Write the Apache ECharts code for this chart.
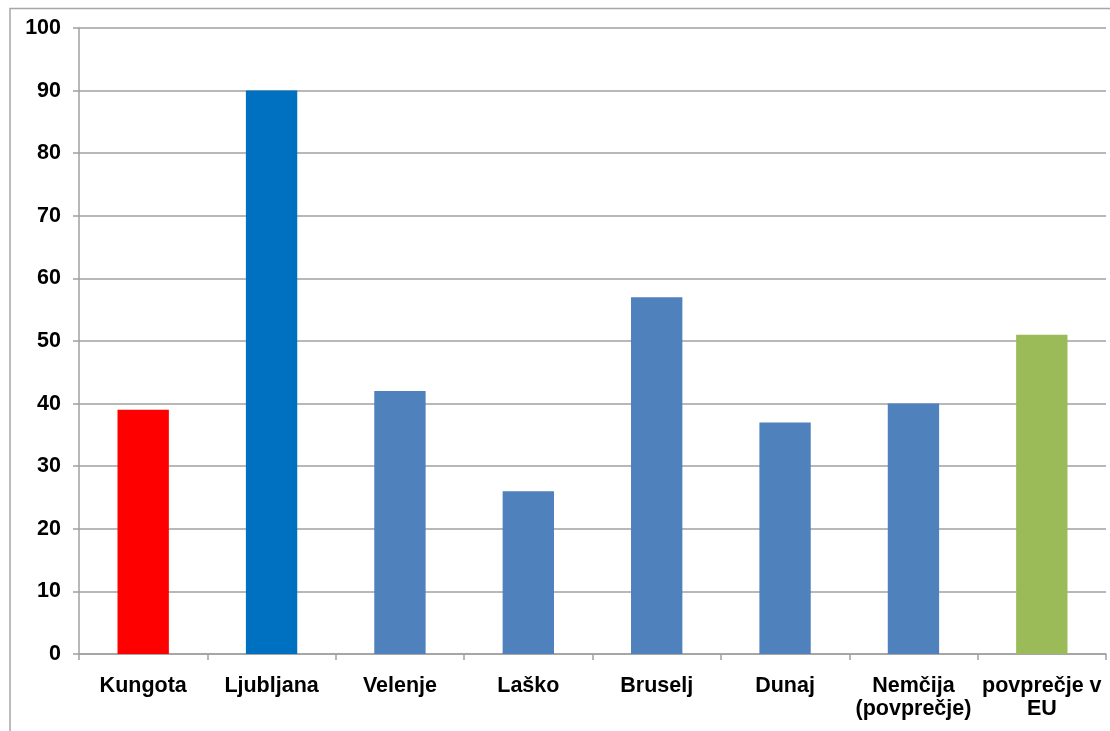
<!DOCTYPE html>
<html>
<head>
<meta charset="utf-8">
<script src="https://cdn.jsdelivr.net/npm/echarts@6/dist/echarts.min.js"></script>
<style>
html,body{margin:0;padding:0;background:#fff;}
#c{width:1110px;height:731px;}
</style>
</head>
<body>
<div id="c"></div>
<script>
const categories = ['Kungota', 'Ljubljana', 'Velenje', 'Laško', 'Bruselj', 'Dunaj', 'Nemčija\n(povprečje)', 'povprečje v\nEU'];
const values = [39, 90, 42, 26, 57, 37, 40, 51];
const barColors = ['#FF0000', '#0070C0', '#4F81BD', '#4F81BD', '#4F81BD', '#4F81BD', '#4F81BD', '#9BBB59'];
const yTicks = { min: 0, max: 100, interval: 10 };

const chart = echarts.init(document.getElementById('c'), null, { renderer: 'canvas' });
chart.setOption({
  animation: false,
  backgroundColor: '#fff',
  graphic: [{
    type: 'polyline',
    shape: { points: [[10, 740], [10, 8.5], [1112, 8.5]] },
    style: { stroke: '#A6A6A6', lineWidth: 1.5, fill: null },
    silent: true
  }],
  grid: { left: 79, right: 4, top: 28, bottom: 77, containLabel: false },
  xAxis: {
    type: 'category',
    data: categories,
    axisLine: { lineStyle: { color: '#A0A0A0', width: 1.5 } },
    axisTick: { show: true, length: 6, alignWithLabel: false, lineStyle: { color: '#A0A0A0', width: 1.5 } },
    axisLabel: {
      interval: 0,
      margin: 21,
      color: '#000',
      fontFamily: 'Liberation Sans, Arial, sans-serif',
      fontWeight: 'bold',
      fontSize: 21.5,
      lineHeight: 23
    },
    splitLine: { show: false }
  },
  yAxis: {
    type: 'value',
    min: yTicks.min,
    max: yTicks.max,
    interval: yTicks.interval,
    axisLine: { show: true, lineStyle: { color: '#A0A0A0', width: 1.5 } },
    axisTick: { show: true, length: 6, lineStyle: { color: '#A0A0A0', width: 1.5 } },
    axisLabel: {
      margin: 18,
      color: '#000',
      fontFamily: 'Liberation Sans, Arial, sans-serif',
      fontWeight: 'bold',
      fontSize: 21.5
    },
    splitLine: { show: true, lineStyle: { color: '#A0A0A0', width: 1.5 } }
  },
  series: [{
    type: 'bar',
    data: values.map((v, i) => ({ value: v, itemStyle: { color: barColors[i] } })),
    barWidth: '40%'
  }]
});
</script>
</body>
</html>
